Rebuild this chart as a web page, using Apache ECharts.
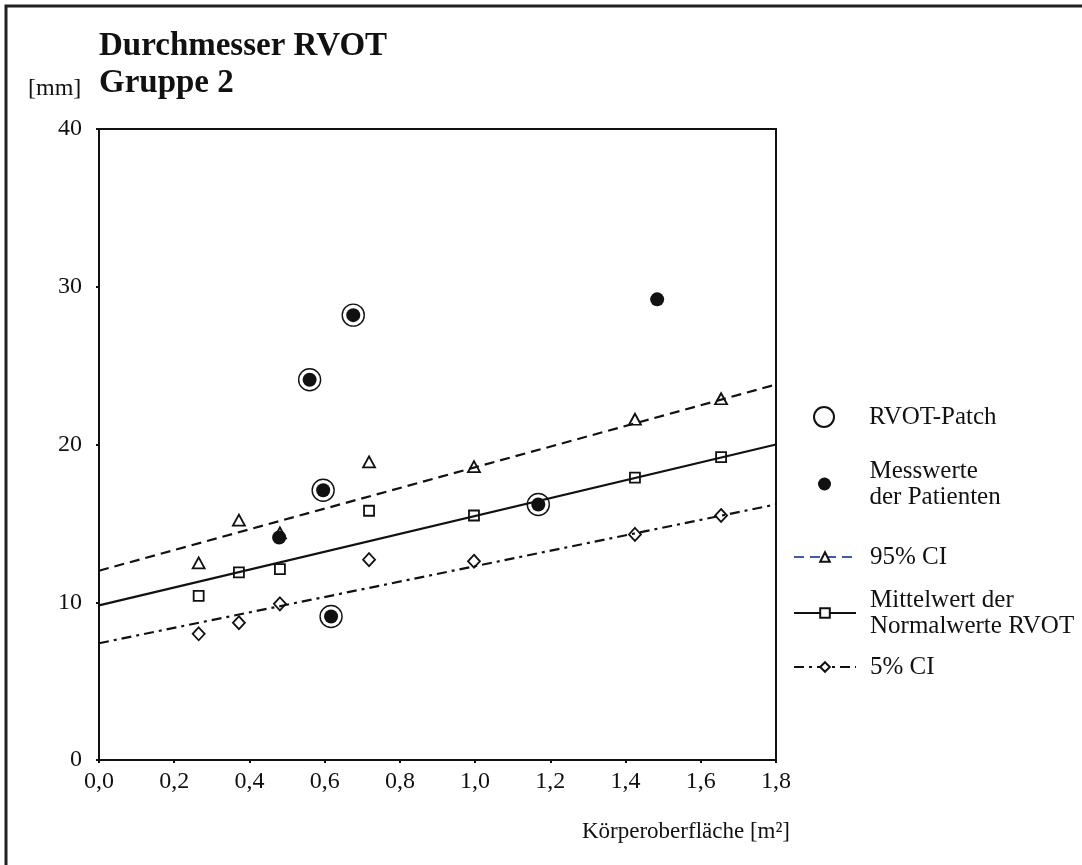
<!DOCTYPE html>
<html>
<head>
<meta charset="utf-8">
<title>Durchmesser RVOT</title>
<script src="https://cdn.jsdelivr.net/npm/echarts@6/dist/echarts.min.js"></script>
<style>
  html, body { margin: 0; padding: 0; background: #fff; }
  #main { width: 1082px; height: 865px; }
</style>
</head>
<body>
<div id="main"></div>
<script>
// Messwerte der Patienten
var patientX = [0.479, 0.560, 0.596, 0.617, 0.676, 1.168, 1.484]
var patientY = [14.1, 24.1, 17.1, 9.1, 28.2, 16.2, 29.2]
// Patienten mit RVOT-Patch (Ring um den Punkt)
var patchX = [0.560, 0.596, 0.617, 0.676, 1.168]
var patchY = [24.1, 17.1, 9.1, 28.2, 16.2]

// Normalwerte
var normX = [0.265, 0.372, 0.481, 0.718, 0.997, 1.425, 1.654]
var ci95Y = [12.5, 15.2, 14.4, 18.9, 18.6, 21.6, 22.9]
var meanY = [10.4, 11.9, 12.1, 15.8, 15.5, 17.9, 19.2]
var ci5Y = [8.0, 8.7, 9.9, 12.7, 12.6, 14.3, 15.5]

// Geraden (Anfang / Ende)
var lineX = [0, 1.8]
var ci95Line = [12.0, 23.8]
var meanLine = [9.8, 20.0]
var ci5Line = [7.4, 16.2]

var xTickLabels = ['0,0', '0,2', '0,4', '0,6', '0,8', '1,0', '1,2', '1,4', '1,6', '1,8']

var FONT = 'Liberation Serif'
var INK = '#111'

function pairs(xs, ys) {
  return xs.map(function (x, i) { return [x, ys[i]] })
}

var markerStyle = { color: '#fff', borderColor: INK, borderWidth: 1.8, opacity: 1 }

function legendBox(name, left, top, h, extra) {
  var item = Object.assign({ name: name }, extra || {})
  return {
    data: [item],
    left: left,
    top: top,
    padding: 0,
    itemWidth: 62,
    itemHeight: h,
    selectedMode: false,
    textStyle: { fontFamily: FONT, fontSize: 25, color: INK, lineHeight: 26, padding: [0, 0, 0, 9] }
  }
}

var myChart = echarts.init(document.getElementById('main'))

var option = {
  animation: false,
  backgroundColor: '#fff',
  title: {
    text: 'Durchmesser RVOT\nGruppe 2',
    left: 99,
    top: 28,
    padding: 0,
    textStyle: { fontFamily: FONT, fontSize: 33, fontWeight: 'bold', color: INK, lineHeight: 37 }
  },
  graphic: [
    {
      type: 'rect',
      shape: { x: 6, y: 6, width: 1300, height: 1000 },
      style: { fill: 'none', stroke: '#222', lineWidth: 3 }
    },
    {
      type: 'text',
      x: 28,
      y: 89,
      style: { text: '[mm]', fontFamily: FONT, fontSize: 24, fill: INK, verticalAlign: 'middle' }
    }
  ],
  legend: [
    legendBox('RVOT-Patch', 813, 404, 20),
    legendBox('Messwerte\nder Patienten', 818, 458, 13),
    legendBox('95% CI', 793, 544, 12, { lineStyle: { color: '#3b5bab' } }),
    legendBox('Mittelwert der\nNormalwerte RVOT', 793, 587, 12),
    legendBox('5% CI', 793, 654, 12)
  ],
  grid: {
    left: 99,
    right: 306,
    top: 129,
    bottom: 105,
    show: true,
    borderColor: INK,
    borderWidth: 2,
    outerBoundsMode: 'none'
  },
  xAxis: {
    type: 'value',
    min: 0,
    max: 1.8,
    interval: 0.2,
    name: 'Körperoberfläche [m²]',
    nameLocation: 'end',
    nameGap: 14,
    nameTextStyle: {
      fontFamily: FONT, fontSize: 23, color: INK,
      align: 'right', verticalAlign: 'top', padding: [60, 0, 0, 0]
    },
    axisLine: { lineStyle: { color: INK, width: 2 } },
    axisTick: { length: 3, lineStyle: { color: INK, width: 2 } },
    splitLine: { show: false },
    axisLabel: {
      fontFamily: FONT, fontSize: 24, color: INK, margin: 10,
      formatter: function (v) { return xTickLabels[Math.round(v / 0.2)] }
    }
  },
  yAxis: {
    type: 'value',
    min: 0,
    max: 40,
    interval: 10,
    axisLine: { lineStyle: { color: INK, width: 2 } },
    axisTick: { length: 3, lineStyle: { color: INK, width: 2 } },
    splitLine: { show: false },
    axisLabel: { fontFamily: FONT, fontSize: 24, color: INK, margin: 17 }
  },
  series: [
    {
      name: '95% CI',
      type: 'line',
      data: pairs(lineX, ci95Line),
      showSymbol: false,
      symbol: 'triangle',
      itemStyle: markerStyle,
      lineStyle: { color: INK, width: 2.2, type: [10, 6] },
      silent: true
    },
    {
      name: 'Mittelwert der\nNormalwerte RVOT',
      type: 'line',
      data: pairs(lineX, meanLine),
      showSymbol: false,
      symbol: 'rect',
      itemStyle: markerStyle,
      lineStyle: { color: INK, width: 2.2 },
      silent: true
    },
    {
      name: '5% CI',
      type: 'line',
      data: pairs(lineX, ci5Line),
      showSymbol: false,
      symbol: 'diamond',
      itemStyle: markerStyle,
      lineStyle: { color: INK, width: 2.2, type: [10, 5, 3, 5] },
      silent: true
    },
    {
      name: '95% CI Werte',
      type: 'scatter',
      data: pairs(normX, ci95Y),
      symbol: 'triangle',
      symbolSize: [12, 11],
      itemStyle: markerStyle
    },
    {
      name: 'Mittelwert Werte',
      type: 'scatter',
      data: pairs(normX, meanY),
      symbol: 'rect',
      symbolSize: 10,
      itemStyle: markerStyle
    },
    {
      name: '5% CI Werte',
      type: 'scatter',
      data: pairs(normX, ci5Y),
      symbol: 'diamond',
      symbolSize: [12, 13],
      itemStyle: markerStyle
    },
    {
      name: 'RVOT-Patch',
      type: 'scatter',
      data: pairs(patchX, patchY),
      symbol: 'circle',
      symbolSize: 22,
      itemStyle: { color: '#fff', borderColor: INK, borderWidth: 1.4, opacity: 1 }
    },
    {
      name: 'Messwerte\nder Patienten',
      type: 'scatter',
      data: pairs(patientX, patientY),
      symbol: 'circle',
      symbolSize: 14,
      itemStyle: { color: INK, opacity: 1 }
    }
  ]
}

myChart.setOption(option)
</script>
</body>
</html>
